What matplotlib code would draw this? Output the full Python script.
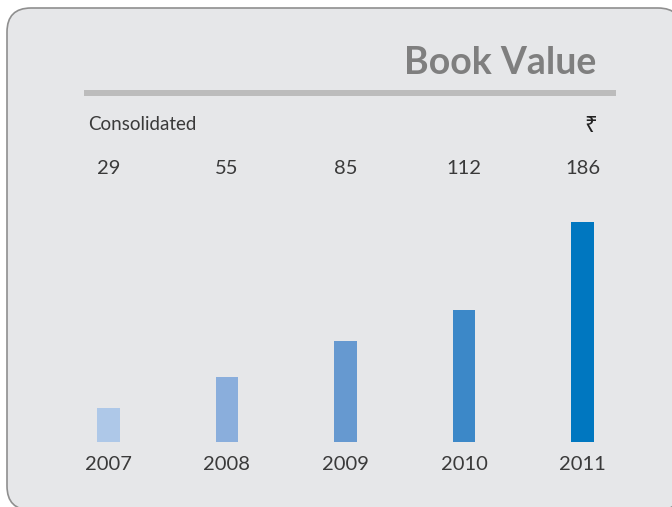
import matplotlib
matplotlib.use("Agg")
import matplotlib.pyplot as plt
from matplotlib.patches import FancyBboxPatch
from matplotlib.transforms import blended_transform_factory
from matplotlib.lines import Line2D

years = ["2007", "2008", "2009", "2010", "2011"]
values = [29, 55, 85, 112, 186]
bar_colors = ["#aec8e8", "#8aaedc", "#6699d0", "#3c88c8", "#0077c0"]
title = "Book Value"
subtitle = "Consolidated"
unit = "₹"

W, H = 672, 507
fig = plt.figure(figsize=(W / 100, H / 100), dpi=100)
fig.patch.set_facecolor("white")

def fx(px):
    return px / W

def fy(py):
    return (H - py) / H

# rounded panel
box = FancyBboxPatch((0.07, -0.03), 6.75, 5.02,
                     boxstyle="round,pad=0,rounding_size=0.24",
                     transform=fig.dpi_scale_trans,
                     facecolor="#e6e7e9", edgecolor="#8f8f8f", linewidth=1.2,
                     zorder=-5)
fig.patches.append(box)

font = ["Lato", "Noto Sans", "DejaVu Sans"]
txt_color = "#3a3a3a"

fig.text(fx(596), fy(63.5), title, ha="right", va="center", fontsize=27,
         fontweight="bold", color="#7f7f7f", family=font)
fig.lines.append(Line2D([fx(84), fx(616)], [fy(93), fy(93)],
                        transform=fig.transFigure, color="#bcbcbc", linewidth=4.3,
                        solid_capstyle="butt"))
fig.text(fx(88), fy(124), subtitle, ha="left", va="center", fontsize=13.5,
         color=txt_color, family=font)
fig.text(fx(591), fy(126), unit, ha="center", va="center", fontsize=16,
         color="#222222", family=["Noto Sans", "DejaVu Sans"])

ax = fig.add_axes([fx(49.25), fy(442), fx(592.5), 220 / H])
ax.set_zorder(2)
ax.set_facecolor("none")
x = list(range(len(years)))
ax.bar(x, values, width=0.194, color=bar_colors, edgecolor="none")
ax.set_xlim(-0.5, 4.5)
ax.set_ylim(0, 186)
ax.axis("off")

tr = blended_transform_factory(ax.transData, fig.transFigure)
for i, (yr, v) in enumerate(zip(years, values)):
    ax.text(i, fy(168), str(v), transform=tr, ha="center", va="center",
            fontsize=14.5, color=txt_color, family=font, clip_on=False)
    ax.text(i, fy(464), yr, transform=tr, ha="center", va="center",
            fontsize=14.5, color=txt_color, family=font, clip_on=False)

fig.savefig("out.png", dpi=100)
